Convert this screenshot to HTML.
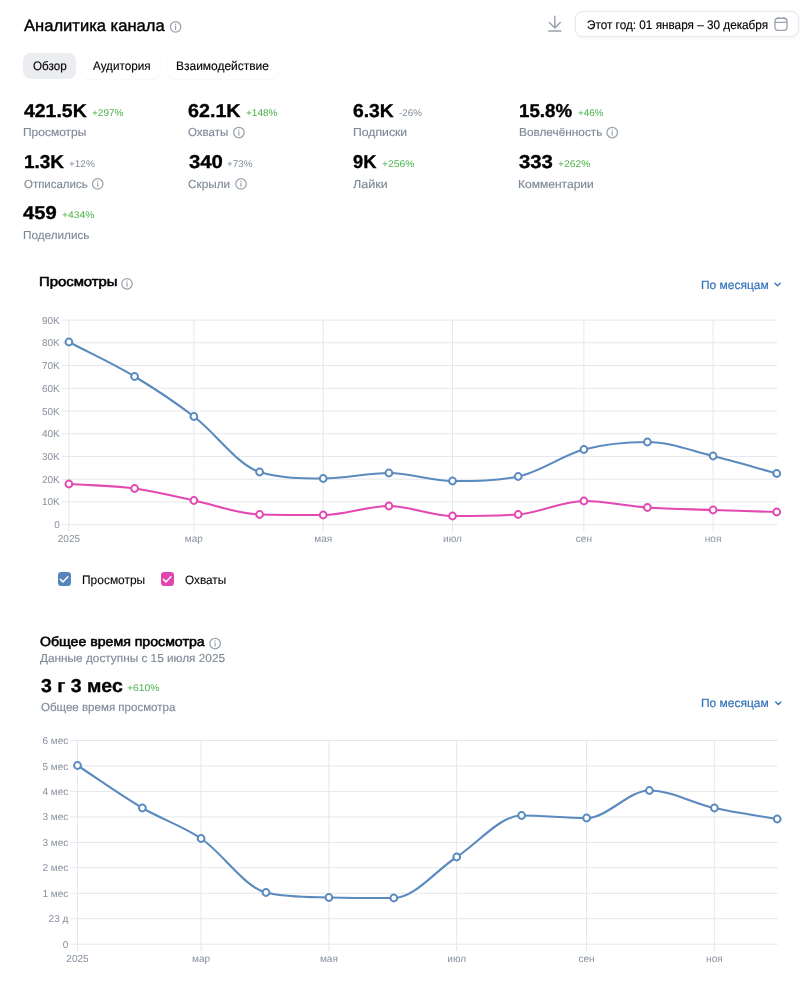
<!DOCTYPE html>
<html lang="ru">
<head>
<meta charset="utf-8">
<title>Аналитика канала</title>
<style>
*{box-sizing:border-box;margin:0;padding:0}
html,body{width:810px;height:1000px;background:#fff;overflow:hidden}
body{font-family:"Liberation Sans",Arial,sans-serif;color:#000;position:relative;text-rendering:geometricPrecision}
header,nav,section,div,label,h1,h2,span{display:block}
.hdr,.tabs,.stats,.stat,.select,.legend,.lg{position:absolute}
.t{position:absolute;white-space:nowrap;line-height:20px;transform-origin:0 0;margin:0}
.title{font-size:16.4px;font-weight:400;color:#000;-webkit-text-stroke:0.4px #000;}
.tab{font-size:12.3px;font-weight:400;color:#000;-webkit-text-stroke:0.15px #000;}
.date{font-size:12.5px;font-weight:400;color:#000;-webkit-text-stroke:0.15px #000;}
.num{font-size:18.7px;font-weight:700;color:#000;-webkit-text-stroke:0.35px #000;}
.pct{font-size:9.7px;font-weight:400;color:#4bb34b;}
.pctg{font-size:9.7px;font-weight:400;color:#818c99;}
.lbl{font-size:11.6px;font-weight:400;color:#7f8a97;-webkit-text-stroke:0.15px #7f8a97;}
.h{font-size:13.2px;font-weight:400;color:#000;-webkit-text-stroke:0.55px #000;}
.sel{font-size:12.0px;font-weight:400;color:#3371b8;-webkit-text-stroke:0.18px #3371b8;}
.leg{font-size:12.2px;font-weight:400;color:#000;-webkit-text-stroke:0.1px #000;}
.pill{position:absolute;border-radius:8px}
.pill.on{background:#ebedf0}
.pill.off{background:#fff;box-shadow:0 0 1.5px rgba(0,0,0,.035),0 1px 2px rgba(0,0,0,.03)}
.datebox{position:absolute;border-radius:8px;background:#fff;border:1px solid #e7e9ec;box-shadow:0 1px 3px rgba(0,0,0,.06)}
.card{position:absolute;border-radius:9px;border:1px solid #fefefe}
.cb{position:absolute;width:13.4px;height:13.4px;border-radius:3.2px}
.chart{position:absolute;overflow:visible}
.chart .g{stroke:#e4e7ec;stroke-width:1}
.chart text{font-family:"Liberation Sans",Arial,sans-serif;font-size:10.05px;fill:#87919f}
.chart .yl{text-anchor:end}
.chart .xl{text-anchor:middle}
svg.ic{position:absolute;overflow:visible}
</style>
</head>
<body>
<header class="hdr" style="left:0px;top:0px;width:810px;height:46px;">
 <h1 class="t title" style="left:23.80px;top:15.68px;transform:scaleX(1.0109)">Аналитика канала</h1>
 <svg class="ic" style="left:168px;top:19px" width="14" height="14" viewBox="168 19 14 14" aria-hidden="true"><circle cx="175.60" cy="26.90" r="5.25" fill="none" stroke="#99a2ad" stroke-width="1.25"/><circle cx="175.60" cy="24.30" r="0.7" fill="#99a2ad"/><path d="M175.60 26.10V29.60" stroke="#99a2ad" stroke-width="1.15" stroke-linecap="round"/></svg>
 <svg class="ic" style="left:546px;top:13px" width="18" height="21" viewBox="546 13 18 21" aria-hidden="true"><path d="M554.8 16.2V27.6M549.3 22.4L554.8 27.9L560.3 22.4M548.6 31.05H560.9" fill="none" stroke="#99a2ad" stroke-width="1.45" stroke-linecap="round" stroke-linejoin="round"/></svg>
 <div class="datebox" style="left:574.5px;top:11px;width:224.5px;height:26px;">
  <span class="t date" style="left:11.94px;top:2.70px;transform:scaleX(0.9399)">Этот год: 01 января – 30 декабря</span>
  <svg class="ic" style="left:197.5px;top:4px" width="16" height="16" viewBox="773 16 16 16" aria-hidden="true"><rect x="774.95" y="18.25" width="12.1" height="12.1" rx="3.3" fill="none" stroke="#99a2ad" stroke-width="1.3"/><path d="M775 22.3H787M778.1 17.3V18.4M783.9 17.3V18.4" stroke="#99a2ad" stroke-width="1.3" stroke-linecap="round" fill="none"/></svg>
 </div>
</header>
<nav class="tabs" style="left:0px;top:52px;width:810px;height:28px;">
 <div class="pill on" style="left:23px;top:0.5px;width:53px;height:26px;">
  <span class="t tab" style="left:9.71px;top:3.50px;transform:scaleX(0.9484)">Обзор</span>
 </div>
 <div class="pill off" style="left:82.5px;top:0.5px;width:77px;height:26px;">
  <span class="t tab" style="left:10.30px;top:3.50px;transform:scaleX(0.9500)">Аудитория</span>
 </div>
 <div class="pill off" style="left:166.5px;top:0.5px;width:111.5px;height:26px;">
  <span class="t tab" style="left:9.03px;top:3.50px;transform:scaleX(0.9734)">Взаимодействие</span>
 </div>
</nav>
<section class="stats" style="left:0px;top:96px;width:810px;height:152px;">
 <div class="stat" style="left:24px;top:2px;width:160px;height:48px;">
  <div class="t num" style="left:0.10px;top:2.68px;transform:scaleX(1.0400)">421.5K</div>
  <span class="t pct" style="left:67.71px;top:5.91px;transform:scaleX(1.0310)">+297%</span>
  <div class="t lbl" style="left:-1.03px;top:25.30px;transform:scaleX(1.0325)">Просмотры</div>
 </div>
 <div class="stat" style="left:188px;top:2px;width:160px;height:48px;">
  <div class="t num" style="left:0.24px;top:2.68px;transform:scaleX(1.0548)">62.1K</div>
  <span class="t pct" style="left:57.61px;top:5.91px;transform:scaleX(1.0344)">+148%</span>
  <div class="t lbl" style="left:0.23px;top:25.30px;transform:scaleX(0.9943)">Охваты</div>
  <svg class="ic" style="left:43px;top:27px" width="14" height="14" viewBox="231 125 14 14" aria-hidden="true"><circle cx="238.90" cy="132.50" r="5.25" fill="none" stroke="#99a2ad" stroke-width="1.25"/><circle cx="238.90" cy="129.90" r="0.7" fill="#99a2ad"/><path d="M238.90 131.70V135.20" stroke="#99a2ad" stroke-width="1.15" stroke-linecap="round"/></svg>
 </div>
 <div class="stat" style="left:353px;top:2px;width:160px;height:48px;">
  <div class="t num" style="left:0.44px;top:2.68px;transform:scaleX(1.0322)">6.3K</div>
  <span class="t pctg" style="left:46.43px;top:5.91px;transform:scaleX(1.0109)">-26%</span>
  <div class="t lbl" style="left:0.15px;top:25.30px;transform:scaleX(1.0540)">Подписки</div>
 </div>
 <div class="stat" style="left:519px;top:2px;width:160px;height:48px;">
  <div class="t num" style="left:0.40px;top:2.68px;transform:scaleX(1.0019)">15.8%</div>
  <span class="t pct" style="left:59.03px;top:5.91px;transform:scaleX(1.0130)">+46%</span>
  <div class="t lbl" style="left:-0.22px;top:25.30px;transform:scaleX(1.0193)">Вовлечённость</div>
  <svg class="ic" style="left:86px;top:27px" width="14" height="14" viewBox="605 125 14 14" aria-hidden="true"><circle cx="612.20" cy="132.50" r="5.25" fill="none" stroke="#99a2ad" stroke-width="1.25"/><circle cx="612.20" cy="129.90" r="0.7" fill="#99a2ad"/><path d="M612.20 131.70V135.20" stroke="#99a2ad" stroke-width="1.15" stroke-linecap="round"/></svg>
 </div>
 <div class="stat" style="left:24px;top:53px;width:160px;height:48px;">
  <div class="t num" style="left:-0.11px;top:2.98px;transform:scaleX(1.0132)">1.3K</div>
  <span class="t pctg" style="left:45.02px;top:6.20px;transform:scaleX(1.0296)">+12%</span>
  <div class="t lbl" style="left:-0.47px;top:25.70px;transform:scaleX(0.9874)">Отписались</div>
  <svg class="ic" style="left:66px;top:27px" width="14" height="14" viewBox="90 176 14 14" aria-hidden="true"><circle cx="97.70" cy="183.90" r="5.25" fill="none" stroke="#99a2ad" stroke-width="1.25"/><circle cx="97.70" cy="181.30" r="0.7" fill="#99a2ad"/><path d="M97.70 183.10V186.60" stroke="#99a2ad" stroke-width="1.15" stroke-linecap="round"/></svg>
 </div>
 <div class="stat" style="left:188px;top:53px;width:160px;height:48px;">
  <div class="t num" style="left:0.65px;top:2.98px;transform:scaleX(1.0883)">340</div>
  <span class="t pctg" style="left:39.32px;top:6.20px;transform:scaleX(1.0213)">+73%</span>
  <div class="t lbl" style="left:0.47px;top:25.70px;transform:scaleX(1.0152)">Скрыли</div>
  <svg class="ic" style="left:46px;top:27px" width="14" height="14" viewBox="234 176 14 14" aria-hidden="true"><circle cx="241.00" cy="183.90" r="5.25" fill="none" stroke="#99a2ad" stroke-width="1.25"/><circle cx="241.00" cy="181.30" r="0.7" fill="#99a2ad"/><path d="M241.00 183.10V186.60" stroke="#99a2ad" stroke-width="1.15" stroke-linecap="round"/></svg>
 </div>
 <div class="stat" style="left:353px;top:53px;width:160px;height:48px;">
  <div class="t num" style="left:0.49px;top:2.98px;transform:scaleX(0.9813)">9K</div>
  <span class="t pct" style="left:29.39px;top:6.20px;transform:scaleX(1.0618)">+256%</span>
  <div class="t lbl" style="left:0.39px;top:25.70px;transform:scaleX(1.0837)">Лайки</div>
 </div>
 <div class="stat" style="left:519px;top:53px;width:160px;height:48px;">
  <div class="t num" style="left:-0.05px;top:2.98px;transform:scaleX(1.0867)">333</div>
  <span class="t pct" style="left:38.59px;top:6.20px;transform:scaleX(1.0618)">+262%</span>
  <div class="t lbl" style="left:-0.84px;top:25.70px;transform:scaleX(1.0380)">Комментарии</div>
 </div>
 <div class="stat" style="left:24px;top:104px;width:160px;height:48px;">
  <div class="t num" style="left:-0.70px;top:3.18px;transform:scaleX(1.0786)">459</div>
  <span class="t pct" style="left:37.69px;top:6.41px;transform:scaleX(1.0687)">+434%</span>
  <div class="t lbl" style="left:-1.11px;top:25.80px;transform:scaleX(1.0116)">Поделились</div>
 </div>
</section>
<section class="card" style="left:23px;top:259px;width:777px;height:347px;">
 <h2 class="t h" style="left:15.17px;top:12.38px;transform:scaleX(1.1265)">Просмотры</h2>
 <svg class="ic" style="left:96px;top:16px" width="14" height="14" viewBox="120 276 14 14" aria-hidden="true"><circle cx="127.00" cy="283.80" r="5.25" fill="none" stroke="#99a2ad" stroke-width="1.25"/><circle cx="127.00" cy="281.20" r="0.7" fill="#99a2ad"/><path d="M127.00 283.00V286.50" stroke="#99a2ad" stroke-width="1.15" stroke-linecap="round"/></svg>
 <div class="select" style="left:672px;top:12px;width:92px;height:24px;">
  <span class="t sel" style="left:4.80px;top:2.70px;transform:scaleX(0.9970)">По месяцам</span>
  <svg class="ic" style="left:76px;top:7px" width="10" height="10" viewBox="772 279 10 10" aria-hidden="true"><path d="M775.00 283.20L777.60 285.70L780.20 283.20" fill="none" stroke="#3371b8" stroke-width="1.3" stroke-linecap="round" stroke-linejoin="round"/></svg>
 </div>
<svg class="chart" style="left:-4px;top:40px" width="780" height="260" viewBox="20 300 780 260" role="img">
<line x1="61.7" y1="320.10" x2="777.2" y2="320.10" class="g"/>
<line x1="61.7" y1="342.82" x2="777.2" y2="342.82" class="g"/>
<line x1="61.7" y1="365.54" x2="777.2" y2="365.54" class="g"/>
<line x1="61.7" y1="388.27" x2="777.2" y2="388.27" class="g"/>
<line x1="61.7" y1="410.99" x2="777.2" y2="410.99" class="g"/>
<line x1="61.7" y1="433.71" x2="777.2" y2="433.71" class="g"/>
<line x1="61.7" y1="456.43" x2="777.2" y2="456.43" class="g"/>
<line x1="61.7" y1="479.16" x2="777.2" y2="479.16" class="g"/>
<line x1="61.7" y1="501.88" x2="777.2" y2="501.88" class="g"/>
<line x1="61.7" y1="524.60" x2="777.2" y2="524.60" class="g"/>
<line x1="68.90" y1="320.1" x2="68.90" y2="531.6" class="g"/>
<line x1="193.93" y1="320.1" x2="193.93" y2="531.6" class="g"/>
<line x1="323.20" y1="320.1" x2="323.20" y2="531.6" class="g"/>
<line x1="452.47" y1="320.1" x2="452.47" y2="531.6" class="g"/>
<line x1="583.86" y1="320.1" x2="583.86" y2="531.6" class="g"/>
<line x1="713.13" y1="320.1" x2="713.13" y2="531.6" class="g"/>
<text x="59.8" y="323.6" class="yl">90K</text>
<text x="59.8" y="346.3" class="yl">80K</text>
<text x="59.8" y="369.0" class="yl">70K</text>
<text x="59.8" y="391.8" class="yl">60K</text>
<text x="59.8" y="414.5" class="yl">50K</text>
<text x="59.8" y="437.2" class="yl">40K</text>
<text x="59.8" y="459.9" class="yl">30K</text>
<text x="59.8" y="482.7" class="yl">20K</text>
<text x="59.8" y="505.4" class="yl">10K</text>
<text x="59.8" y="528.1" class="yl">0</text>
<text x="68.9" y="542.2" class="xl">2025</text>
<text x="193.9" y="542.2" class="xl">мар</text>
<text x="323.2" y="542.2" class="xl">мая</text>
<text x="452.5" y="542.2" class="xl">июл</text>
<text x="583.9" y="542.2" class="xl">сен</text>
<text x="713.1" y="542.2" class="xl">ноя</text>
<path d="M68.9 342.0 C90.8 353.5 112.7 363.4 134.6 376.5 C154.4 388.4 174.2 401.5 193.9 416.5 C215.8 433.1 237.7 465.3 259.6 472.0 C280.8 478.5 302.0 478.5 323.2 478.5 C345.1 478.5 367.0 473.0 388.9 473.0 C410.1 473.0 431.3 481.0 452.5 481.0 C474.4 481.0 496.3 481.0 518.2 476.5 C540.1 472.0 562.0 455.3 583.9 449.5 C605.0 443.9 626.2 442.0 647.4 442.0 C669.3 442.0 691.2 450.7 713.1 456.0 C734.3 461.2 755.5 467.7 776.7 473.5" fill="none" stroke="#5b8abf" stroke-width="2.1" stroke-linejoin="round" stroke-linecap="round"/>
<path d="M68.9 484.0 C90.8 485.5 112.7 485.5 134.6 488.5 C154.4 491.2 174.2 496.4 193.9 500.5 C215.8 505.0 237.7 514.0 259.6 514.5 C280.8 515.0 302.0 515.0 323.2 515.0 C345.1 515.0 367.0 506.0 388.9 506.0 C410.1 506.0 431.3 516.0 452.5 516.0 C474.4 516.0 496.3 516.0 518.2 514.5 C540.1 513.0 562.0 501.0 583.9 501.0 C605.0 501.0 626.2 506.0 647.4 507.5 C669.3 509.0 691.2 509.2 713.1 510.0 C734.3 510.7 755.5 511.3 776.7 512.0" fill="none" stroke="#e349b3" stroke-width="2.1" stroke-linejoin="round" stroke-linecap="round"/>
<circle cx="68.9" cy="342.0" r="3.4" fill="#fff" stroke="#5b8abf" stroke-width="2"/>
<circle cx="134.6" cy="376.5" r="3.4" fill="#fff" stroke="#5b8abf" stroke-width="2"/>
<circle cx="193.9" cy="416.5" r="3.4" fill="#fff" stroke="#5b8abf" stroke-width="2"/>
<circle cx="259.6" cy="472.0" r="3.4" fill="#fff" stroke="#5b8abf" stroke-width="2"/>
<circle cx="323.2" cy="478.5" r="3.4" fill="#fff" stroke="#5b8abf" stroke-width="2"/>
<circle cx="388.9" cy="473.0" r="3.4" fill="#fff" stroke="#5b8abf" stroke-width="2"/>
<circle cx="452.5" cy="481.0" r="3.4" fill="#fff" stroke="#5b8abf" stroke-width="2"/>
<circle cx="518.2" cy="476.5" r="3.4" fill="#fff" stroke="#5b8abf" stroke-width="2"/>
<circle cx="583.9" cy="449.5" r="3.4" fill="#fff" stroke="#5b8abf" stroke-width="2"/>
<circle cx="647.4" cy="442.0" r="3.4" fill="#fff" stroke="#5b8abf" stroke-width="2"/>
<circle cx="713.1" cy="456.0" r="3.4" fill="#fff" stroke="#5b8abf" stroke-width="2"/>
<circle cx="776.7" cy="473.5" r="3.4" fill="#fff" stroke="#5b8abf" stroke-width="2"/>
<circle cx="68.9" cy="484.0" r="3.4" fill="#fff" stroke="#e349b3" stroke-width="2"/>
<circle cx="134.6" cy="488.5" r="3.4" fill="#fff" stroke="#e349b3" stroke-width="2"/>
<circle cx="193.9" cy="500.5" r="3.4" fill="#fff" stroke="#e349b3" stroke-width="2"/>
<circle cx="259.6" cy="514.5" r="3.4" fill="#fff" stroke="#e349b3" stroke-width="2"/>
<circle cx="323.2" cy="515.0" r="3.4" fill="#fff" stroke="#e349b3" stroke-width="2"/>
<circle cx="388.9" cy="506.0" r="3.4" fill="#fff" stroke="#e349b3" stroke-width="2"/>
<circle cx="452.5" cy="516.0" r="3.4" fill="#fff" stroke="#e349b3" stroke-width="2"/>
<circle cx="518.2" cy="514.5" r="3.4" fill="#fff" stroke="#e349b3" stroke-width="2"/>
<circle cx="583.9" cy="501.0" r="3.4" fill="#fff" stroke="#e349b3" stroke-width="2"/>
<circle cx="647.4" cy="507.5" r="3.4" fill="#fff" stroke="#e349b3" stroke-width="2"/>
<circle cx="713.1" cy="510.0" r="3.4" fill="#fff" stroke="#e349b3" stroke-width="2"/>
<circle cx="776.7" cy="512.0" r="3.4" fill="#fff" stroke="#e349b3" stroke-width="2"/>
</svg>
 <div class="legend" style="left:26px;top:306px;width:300px;height:26px;">
  <label class="lg" style="left:4px;top:0px;width:98px;height:26px;">
   <span class="cb" style="left:3.6px;top:6.4px;background:#5685bd">

   </span>
   <svg class="ic" style="left:3px;top:6px" width="15" height="15" viewBox="57 572 15 15" aria-hidden="true"><path d="M60.30 579.3L62.90 581.9L67.90 576.8" fill="none" stroke="#fff" stroke-width="1.5" stroke-linecap="round" stroke-linejoin="round"/></svg>
   <span class="t leg" style="left:28.32px;top:4.20px;transform:scaleX(0.9812)">Просмотры</span>
  </label>
  <label class="lg" style="left:106px;top:0px;width:78px;height:26px;">
   <span class="cb" style="left:4.6px;top:6.4px;background:#e245b0">

   </span>
   <svg class="ic" style="left:4px;top:6px" width="15" height="15" viewBox="160 572 15 15" aria-hidden="true"><path d="M163.30 579.3L165.90 581.9L170.90 576.8" fill="none" stroke="#fff" stroke-width="1.5" stroke-linecap="round" stroke-linejoin="round"/></svg>
   <span class="t leg" style="left:29.37px;top:4.20px;transform:scaleX(0.9655)">Охваты</span>
  </label>
 </div>
</section>
<section class="card" style="left:23px;top:624px;width:777px;height:400px;">
 <h2 class="t h" style="left:16.18px;top:7.38px;transform:scaleX(1.0715)">Общее время просмотра</h2>
 <svg class="ic" style="left:184px;top:11px" width="14" height="14" viewBox="208 636 14 14" aria-hidden="true"><circle cx="215.10" cy="643.50" r="5.25" fill="none" stroke="#99a2ad" stroke-width="1.25"/><circle cx="215.10" cy="640.90" r="0.7" fill="#99a2ad"/><path d="M215.10 642.70V646.20" stroke="#99a2ad" stroke-width="1.15" stroke-linecap="round"/></svg>
 <div class="t lbl" style="left:16.30px;top:23.70px;transform:scaleX(1.0183)">Данные доступны с 15 июля 2025</div>
 <div class="stat" style="left:16px;top:47px;width:200px;height:46px;">
  <div class="t num" style="left:0.66px;top:4.08px;transform:scaleX(1.0410)">3 г 3 мес</div>
  <span class="t pct" style="left:87.09px;top:6.90px;transform:scaleX(1.0687)">+610%</span>
  <div class="t lbl" style="left:0.53px;top:26.40px;transform:scaleX(0.9952)">Общее время просмотра</div>
 </div>
 <div class="select" style="left:672px;top:66px;width:92px;height:24px;">
  <span class="t sel" style="left:4.80px;top:2.40px;transform:scaleX(0.9970)">По месяцам</span>
  <svg class="ic" style="left:77px;top:7px" width="10" height="10" viewBox="773 698 10 10" aria-hidden="true"><path d="M775.70 702.00L778.30 704.50L780.90 702.00" fill="none" stroke="#3371b8" stroke-width="1.3" stroke-linecap="round" stroke-linejoin="round"/></svg>
 </div>
<svg class="chart" style="left:-4px;top:100px" width="780" height="260" viewBox="20 725 780 260" role="img">
<line x1="70.3" y1="740.50" x2="777.7" y2="740.50" class="g"/>
<line x1="70.3" y1="765.96" x2="777.7" y2="765.96" class="g"/>
<line x1="70.3" y1="791.42" x2="777.7" y2="791.42" class="g"/>
<line x1="70.3" y1="816.89" x2="777.7" y2="816.89" class="g"/>
<line x1="70.3" y1="842.35" x2="777.7" y2="842.35" class="g"/>
<line x1="70.3" y1="867.81" x2="777.7" y2="867.81" class="g"/>
<line x1="70.3" y1="893.28" x2="777.7" y2="893.28" class="g"/>
<line x1="70.3" y1="918.74" x2="777.7" y2="918.74" class="g"/>
<line x1="70.3" y1="944.20" x2="777.7" y2="944.20" class="g"/>
<line x1="77.50" y1="740.5" x2="77.50" y2="951.2" class="g"/>
<line x1="201.10" y1="740.5" x2="201.10" y2="951.2" class="g"/>
<line x1="328.89" y1="740.5" x2="328.89" y2="951.2" class="g"/>
<line x1="456.68" y1="740.5" x2="456.68" y2="951.2" class="g"/>
<line x1="586.56" y1="740.5" x2="586.56" y2="951.2" class="g"/>
<line x1="714.35" y1="740.5" x2="714.35" y2="951.2" class="g"/>
<text x="68.4" y="744.0" class="yl">6 мес</text>
<text x="68.4" y="769.5" class="yl">5 мес</text>
<text x="68.4" y="794.9" class="yl">4 мес</text>
<text x="68.4" y="820.4" class="yl">3 мес</text>
<text x="68.4" y="845.9" class="yl">3 мес</text>
<text x="68.4" y="871.3" class="yl">2 мес</text>
<text x="68.4" y="896.8" class="yl">1 мес</text>
<text x="68.4" y="922.2" class="yl">23 д</text>
<text x="68.4" y="947.7" class="yl">0</text>
<text x="77.5" y="961.8" class="xl">2025</text>
<text x="201.1" y="961.8" class="xl">мар</text>
<text x="328.9" y="961.8" class="xl">мая</text>
<text x="456.7" y="961.8" class="xl">июл</text>
<text x="586.6" y="961.8" class="xl">сен</text>
<text x="714.4" y="961.8" class="xl">ноя</text>
<path d="M77.5 765.5 C99.1 779.7 120.8 795.3 142.4 808.0 C162.0 819.5 181.5 825.3 201.1 838.5 C222.7 853.1 244.4 887.4 266.0 892.5 C287.0 897.5 307.9 897.0 328.9 897.5 C350.5 898.0 372.2 898.0 393.8 898.0 C414.8 898.0 435.7 870.5 456.7 857.0 C478.3 843.0 500.0 815.5 521.6 815.5 C543.3 815.5 564.9 818.0 586.6 818.0 C607.5 818.0 628.5 790.5 649.4 790.5 C671.1 790.5 692.7 803.2 714.4 808.0 C735.3 812.7 756.3 815.3 777.2 819.0" fill="none" stroke="#5b8abf" stroke-width="2.1" stroke-linejoin="round" stroke-linecap="round"/>
<circle cx="77.5" cy="765.5" r="3.4" fill="#fff" stroke="#5b8abf" stroke-width="2"/>
<circle cx="142.4" cy="808.0" r="3.4" fill="#fff" stroke="#5b8abf" stroke-width="2"/>
<circle cx="201.1" cy="838.5" r="3.4" fill="#fff" stroke="#5b8abf" stroke-width="2"/>
<circle cx="266.0" cy="892.5" r="3.4" fill="#fff" stroke="#5b8abf" stroke-width="2"/>
<circle cx="328.9" cy="897.5" r="3.4" fill="#fff" stroke="#5b8abf" stroke-width="2"/>
<circle cx="393.8" cy="898.0" r="3.4" fill="#fff" stroke="#5b8abf" stroke-width="2"/>
<circle cx="456.7" cy="857.0" r="3.4" fill="#fff" stroke="#5b8abf" stroke-width="2"/>
<circle cx="521.6" cy="815.5" r="3.4" fill="#fff" stroke="#5b8abf" stroke-width="2"/>
<circle cx="586.6" cy="818.0" r="3.4" fill="#fff" stroke="#5b8abf" stroke-width="2"/>
<circle cx="649.4" cy="790.5" r="3.4" fill="#fff" stroke="#5b8abf" stroke-width="2"/>
<circle cx="714.4" cy="808.0" r="3.4" fill="#fff" stroke="#5b8abf" stroke-width="2"/>
<circle cx="777.2" cy="819.0" r="3.4" fill="#fff" stroke="#5b8abf" stroke-width="2"/>
</svg>
</section>
</body>
</html>
